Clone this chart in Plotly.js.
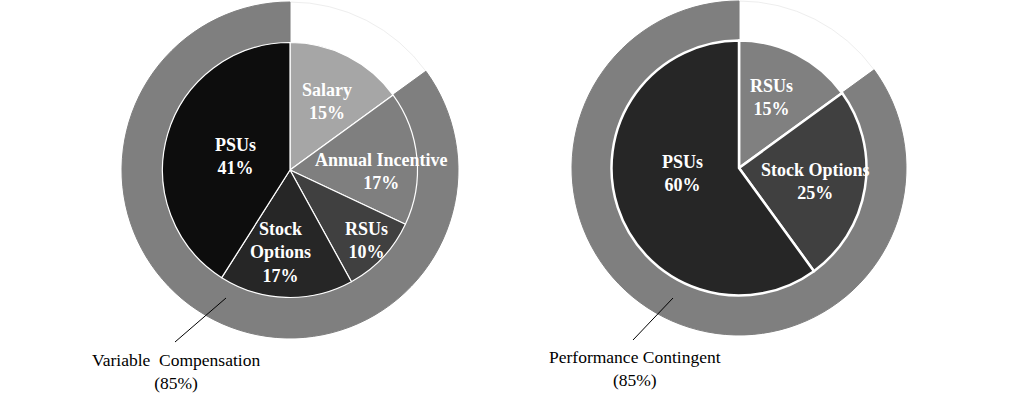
<!DOCTYPE html>
<html>
<head>
<meta charset="utf-8">
<script src="https://cdn.plot.ly/plotly-3.0.1.min.js"></script>
<style>html,body{margin:0;padding:0;background:#fff;}#chart{width:1010px;height:417px;}</style>
</head>
<body>
<div id="chart"></div>
<script>
// Left chart: total compensation mix
const leftLabels = ["Salary", "Annual Incentive", "RSUs", "Stock Options", "PSUs"];
const leftValues = [15, 17, 10, 17, 41];
const leftText = ["Salary<br>15%", "Annual Incentive<br>17%", "RSUs<br>10%", "Stock<br>Options<br>17%", "PSUs<br>41%"];
const leftRingLabels = ["Fixed", "Variable Compensation"];
const leftRingValues = [15, 85];
const leftCallout = "Variable\u00a0 Compensation<br>(85%)";

// Right chart: long-term incentive mix
const rightLabels = ["RSUs", "Stock Options", "PSUs"];
const rightValues = [15, 25, 60];
const rightText = ["RSUs<br>15%", "Stock Options<br>25%", "PSUs<br>60%"];
const rightRingLabels = ["Time-based", "Performance Contingent"];
const rightRingValues = [15, 85];
const rightCallout = "Performance Contingent<br>(85%)";

// styles & positions
const W = 1010, H = 417;
const px = x => x / W;
const py = y => 1 - y / H;
const leftColors = ["#a6a6a6", "#7f7f7f", "#404040", "#262626", "#0d0d0d"];
const rightColors = ["#808080", "#404040", "#262626"];
const ringColors = ["#ffffff", "#7f7f7f"];
const serif = "'Liberation Serif', 'Times New Roman', Times, serif";
const labelFont = {family: serif, size: 18, color: "#ffffff"};
const calloutFont = {family: serif, size: 17.5, color: "#000000"};

// label positions (pixel coordinates of label block centres)
const leftTextPos = [[327, 101], [381, 171], [366, 240], [280, 252], [235, 156]];
const rightTextPos = [[771, 98], [815, 181], [682, 173]];

function dom(cx, cy, r) {
  return {x: [px(cx - r), px(cx + r)], y: [py(cy + r), py(cy - r)]};
}

const traces = [
  {type: "pie", labels: leftRingLabels, values: leftRingValues, hole: 127/168, sort: false,
   direction: "clockwise", rotation: 0, textinfo: "none", hoverinfo: "label+percent",
   marker: {colors: ringColors, line: {color: ["#eeeeee", "#7f7f7f"], width: 1}},
   domain: dom(290, 170, 168), showlegend: false},
  {type: "pie", labels: leftLabels, values: leftValues, sort: false,
   direction: "clockwise", rotation: 0, textinfo: "none", hoverinfo: "label+percent",
   marker: {colors: leftColors, line: {color: "#ffffff", width: 1.2}},
   domain: dom(290, 170, 127.5), showlegend: false},
  {type: "pie", labels: rightRingLabels, values: rightRingValues, hole: 127/167, sort: false,
   direction: "clockwise", rotation: 0, textinfo: "none", hoverinfo: "label+percent",
   marker: {colors: ringColors, line: {color: ["#eeeeee", "#7f7f7f"], width: 1}},
   domain: dom(739, 168, 167), showlegend: false},
  {type: "pie", labels: rightLabels, values: rightValues, sort: false,
   direction: "clockwise", rotation: 0, textinfo: "none", hoverinfo: "label+percent",
   marker: {colors: rightColors, line: {color: "#ffffff", width: 2.5}},
   domain: dom(739, 168, 127.5), showlegend: false}
];

const annotations = [];
leftText.forEach((t, i) => annotations.push({
  xref: "paper", yref: "paper", x: px(leftTextPos[i][0]), y: py(leftTextPos[i][1]),
  xanchor: "center", yanchor: "middle", showarrow: false, text: "<b>" + t + "</b>", font: labelFont
}));
rightText.forEach((t, i) => annotations.push({
  xref: "paper", yref: "paper", x: px(rightTextPos[i][0]), y: py(rightTextPos[i][1]),
  xanchor: "center", yanchor: "middle", showarrow: false, text: "<b>" + t + "</b>", font: labelFont
}));
annotations.push({xref: "paper", yref: "paper", x: px(176), y: py(371), xanchor: "center", yanchor: "middle",
  showarrow: false, text: leftCallout, font: calloutFont});
annotations.push({xref: "paper", yref: "paper", x: px(635), y: py(368), xanchor: "center", yanchor: "middle",
  showarrow: false, text: rightCallout, font: calloutFont});

const shapes = [
  {type: "line", xref: "paper", yref: "paper", x0: px(175), y0: py(342), x1: px(226), y1: py(298), line: {color: "#000", width: 1}},
  {type: "line", xref: "paper", yref: "paper", x0: px(633), y0: py(340), x1: px(673), y1: py(298), line: {color: "#000", width: 1}}
];

Plotly.newPlot("chart", traces, {
  width: W, height: H, margin: {l: 0, r: 0, t: 0, b: 0},
  paper_bgcolor: "#ffffff", plot_bgcolor: "#ffffff",
  annotations: annotations, shapes: shapes, showlegend: false
}, {displayModeBar: false, staticPlot: true});
</script>
</body>
</html>
